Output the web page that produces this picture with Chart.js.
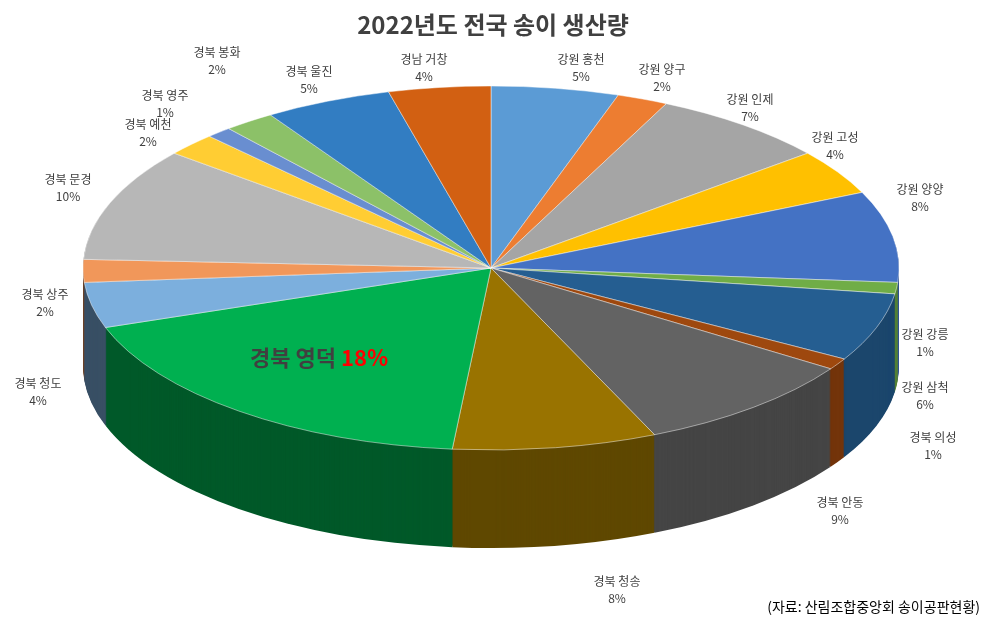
<!DOCTYPE html>
<html>
<head>
<meta charset="utf-8">
<script src="https://cdn.jsdelivr.net/npm/chart.js@4"></script>
<style>
  body { margin: 0; background: #fff; }
  #wrap { width: 986px; height: 626px; position: relative; }
</style>
</head>
<body>
<div id="wrap"><canvas id="pie3d" width="986" height="626"></canvas></div>
<script>
const regions = ["강원 홍천", "강원 양구", "강원 인제", "강원 고성", "강원 양양", "강원 강릉", "강원 삼척",
    "경북 의성", "경북 안동", "경북 청송", "경북 영덕", "경북 청도", "경북 상주", "경북 문경",
    "경북 예천", "경북 영주", "경북 봉화", "경북 울진", "경남 거창"];
const shares = [5, 2, 7, 4, 8, 1, 6, 1, 9, 8, 18, 4, 2, 10, 2, 1, 2, 5, 4];
const sliceColors = ["#5b9bd5", "#ed7d31", "#a5a5a5", "#ffc000", "#4472c4", "#70ad47", "#255e91",
    "#9e480e", "#636363", "#997300", "#00b050", "#7cafdd", "#f1975a", "#b7b7b7",
    "#ffcd33", "#698ed0", "#8cc168", "#327dc2", "#d26012"];
// label anchors (x, y of the name line); index 10 is drawn inside the slice
const labelX = [581, 662, 750, 835, 920, 925, 925, 933, 840, 617, 0, 38, 45, 68, 148, 165, 217, 309, 424];
const labelY = [64, 74, 104, 142, 194, 339, 392, 442, 507, 586, 0, 388, 299, 184, 129, 100, 57, 76, 64];

// ellipse placement on screen
const CX = 491, CY = 268, RX = 408, RY = 182, DEPTH = 98;

function shade(hex, f) {
    const n = parseInt(hex.slice(1), 16);
    const r = Math.round(((n >> 16) & 255) * f), g = Math.round(((n >> 8) & 255) * f), b = Math.round((n & 255) * f);
    return `rgb(${r},${g},${b})`;
}

function squash(ctx, arc, dy) {
    ctx.translate(CX, CY + dy);
    ctx.scale(RX / arc.outerRadius, RY / arc.outerRadius);
    ctx.translate(-arc.x, -arc.y);
}

const pie3d = {
    id: "pie3d",
    beforeDatasetsDraw(chart) {
        const ctx = chart.ctx;
        const arcs = chart.getDatasetMeta(0).data;
        for (let d = DEPTH; d > 0; d--) {
            arcs.forEach((a, i) => {
                ctx.save();
                squash(ctx, a, d);
                ctx.beginPath();
                ctx.moveTo(a.x, a.y);
                ctx.arc(a.x, a.y, a.outerRadius, a.startAngle, a.endAngle);
                ctx.closePath();
                ctx.fillStyle = shade(sliceColors[i], 0.6 + 0.15 * Math.cos((a.startAngle + a.endAngle) / 2));
                ctx.fill();
                ctx.restore();
            });
        }
        ctx.save();
        squash(ctx, arcs[0], 0);
    },
    afterDatasetsDraw(chart) {
        const ctx = chart.ctx;
        ctx.restore();
        ctx.font = "12px 'Noto Sans CJK KR', sans-serif";
        ctx.fillStyle = "#404040";
        ctx.textAlign = "center";
        regions.forEach((name, i) => {
            if (i === 10) return;
            ctx.fillText(name, labelX[i], labelY[i]);
            ctx.fillText(shares[i] + "%", labelX[i], labelY[i] + 17);
        });
        // big inner label
        ctx.font = "bold 22px 'Noto Sans CJK KR', sans-serif";
        ctx.textAlign = "left";
        const t = "경북 영덕 ";
        ctx.fillText(t, 250, 366);
        ctx.fillStyle = "#ff0000";
        ctx.fillText(shares[10] + "%", 250 + ctx.measureText(t).width, 366);
        // title and source
        ctx.textAlign = "center";
        ctx.fillStyle = "#404040";
        ctx.font = "bold 24px 'Noto Sans CJK KR', sans-serif";
        ctx.fillText("2022년도 전국 송이 생산량", 493, 34);
        ctx.textAlign = "right";
        ctx.fillStyle = "#000";
        ctx.font = "14px 'Noto Sans CJK KR', sans-serif";
        ctx.fillText("(자료: 산림조합중앙회 송이공판현황)", 980, 612);
    }
};

new Chart(document.getElementById("pie3d"), {
    type: "pie",
    data: {
        labels: regions,
        datasets: [{
            data: shares,
            backgroundColor: sliceColors,
            borderColor: "#ffffff",
            borderWidth: 0.5
        }]
    },
    options: {
        responsive: false,
        animation: false,
        plugins: { legend: { display: false }, tooltip: { enabled: false } }
    },
    plugins: [pie3d]
});
</script>
</body>
</html>
